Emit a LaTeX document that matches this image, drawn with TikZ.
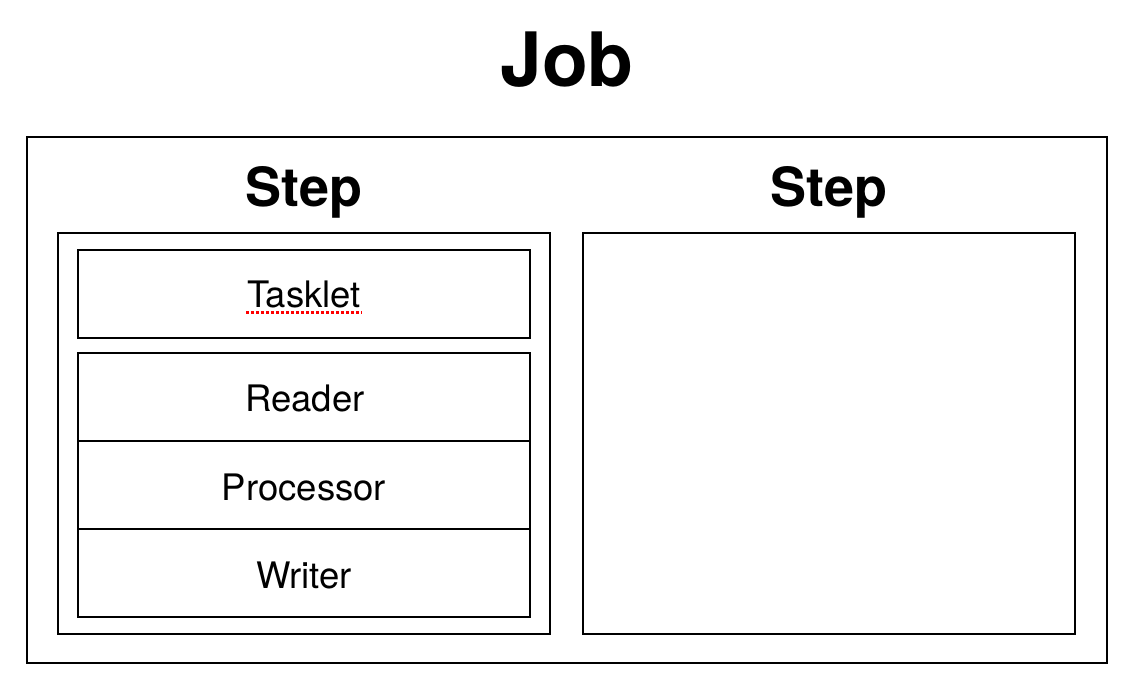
\documentclass[tikz,border=0pt]{standalone}
\usepackage{fontspec}
\setmainfont{TeX Gyre Heros}
\begin{document}
\begin{tikzpicture}[x=1pt,y=-1pt,line width=2pt,
  box/.style={draw=black,line width=2pt},
  jobtitle/.style={anchor=base,inner sep=0pt,font=\bfseries\fontsize{75}{90}\selectfont},
  steptitle/.style={anchor=base,inner sep=0pt,font=\bfseries\fontsize{54}{65}\selectfont},
  itemtext/.style={anchor=base,inner sep=0pt,font=\fontsize{36.5}{44}\selectfont}]
\useasboundingbox[fill=white] (0,0) rectangle (1136,692);
% boxes
\draw[box] (27,137) rectangle (1107,663);
\draw[box] (58,233) rectangle (550,634);
\draw[box] (583,233) rectangle (1075,634);
\draw[box] (78,250) rectangle (530,338);
\draw[box] (78,353) rectangle (530,441);
\draw[box] (78,441) rectangle (530,529);
\draw[box] (78,529) rectangle (530,617);
% texts
\node[jobtitle] (job) at (567,87) {Job};
\node[steptitle] (step1) at (304,207) {Step};
\node[steptitle] (step2) at (829,207) {Step};
\node[itemtext] (tasklet) at (304,308) {Tasklet};
\node[itemtext] (reader) at (305,412) {Reader};
\node[itemtext] (processor) at (304,501) {Processor};
\node[itemtext] (writer) at (304,588) {Writer};
\draw[red,line width=2.5pt,dash pattern=on 3pt off 2pt] (tasklet.base west) ++(0,4.5) coordinate (ul1) -- (tasklet.base east |- ul1);
\end{tikzpicture}
\end{document}
